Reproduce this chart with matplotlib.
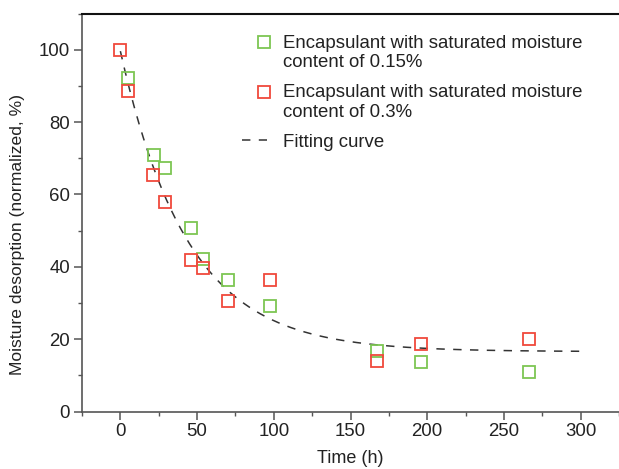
import numpy as np
import matplotlib
matplotlib.use("Agg")
import matplotlib.pyplot as plt
from matplotlib.legend_handler import HandlerLine2D
from matplotlib.ticker import MultipleLocator

plt.rcParams['font.family'] = ['Liberation Sans', 'DejaVu Sans']

# data
t_015 = [4.8, 21.7, 28.8, 46.0, 53.8, 70.0, 97.6, 167.0, 195.8, 266.3]
y_015 = [92.2, 70.8, 67.2, 50.7, 42.3, 36.3, 29.3, 16.8, 13.6, 11.0]

t_03 = [0.0, 4.8, 21.3, 28.8, 46.0, 53.8, 70.0, 97.6, 167.0, 195.8, 266.3]
y_03 = [100.0, 88.5, 65.5, 57.9, 41.9, 39.7, 30.6, 36.3, 14.1, 18.6, 20.2]

# exponential fit parameters: y = y0 + A*exp(-t/tau)
fit_y0 = 16.6
fit_A = 83.0
fit_tau = 44.0
t_fit = np.linspace(0, 300, 301)
y_fit = fit_y0 + fit_A * np.exp(-t_fit / fit_tau)

green = '#7dc653'
red = '#f0493c'
fs = 13.4


class TopHandler(HandlerLine2D):
    # put marker on first text line and to the right end of the handle
    def create_artists(self, legend, orig_handle, xdescent, ydescent,
                       width, height, fontsize, trans):
        arts = super().create_artists(legend, orig_handle, xdescent, ydescent,
                                      width, height, fontsize, trans)
        for a in arts:
            a.set_ydata(np.asarray(a.get_ydata()) + 0.56 * fontsize)
            a.set_xdata(np.asarray(a.get_xdata()) + 0.49 * fontsize)
        return arts


fig = plt.figure(figsize=(6.19, 4.69), dpi=100)
ax = fig.add_axes([0.1325, 0.1222, 0.8675, 0.849])

g, = ax.plot(t_015, y_015, linestyle='none', marker='s', markersize=8.2,
             markerfacecolor='none', markeredgecolor=green, markeredgewidth=1.3,
             label='Encapsulant with saturated moisture\ncontent of 0.15%', zorder=3)
r, = ax.plot(t_03, y_03, linestyle='none', marker='s', markersize=8.2,
             markerfacecolor='none', markeredgecolor=red, markeredgewidth=1.3,
             label='Encapsulant with saturated moisture\ncontent of 0.3%', zorder=3)
f, = ax.plot(t_fit, y_fit, color='#333333', linewidth=1.1, dashes=(5.5, 5.5),
             label='Fitting curve', zorder=2)

ax.set_xlim(-25, 325)
ax.set_ylim(0, 110)
ax.xaxis.set_major_locator(MultipleLocator(50))
ax.xaxis.set_minor_locator(MultipleLocator(25))
ax.yaxis.set_major_locator(MultipleLocator(20))
ax.yaxis.set_minor_locator(MultipleLocator(10))
ax.set_xticks([0, 50, 100, 150, 200, 250, 300])

for s in ['left', 'bottom']:
    ax.spines[s].set_color('#555555')
    ax.spines[s].set_linewidth(1.2)
ax.spines['top'].set_color('#111111')
ax.spines['top'].set_linewidth(1.5)
ax.spines['right'].set_visible(False)

ax.tick_params(which='major', direction='out', length=5.5, width=1.1,
               color='#555555', labelsize=fs, labelcolor='#222222', pad=3)
ax.tick_params(which='minor', direction='out', length=3, width=1.0,
               color='#555555')
ax.tick_params(top=False, right=False, which='both')

ax.set_xlabel('Time (h)', fontsize=13, color='#222222', labelpad=7)
ax.set_ylabel('Moisture desorption (normalized, %)', fontsize=12.6,
              color='#222222')
ax.yaxis.set_label_coords(-0.106, 0.444)

leg = ax.legend(handles=[g, r, f], loc='upper left',
                bbox_to_anchor=(0.298, 0.947), frameon=False, fontsize=fs,
                handlelength=1.34, handletextpad=0.86, labelspacing=0.7,
                borderaxespad=0, borderpad=0,
                handler_map={g: TopHandler(), r: TopHandler()})
for txt in leg.get_texts():
    txt.set_color('#222222')
    txt.set_linespacing(1.19)

fig.savefig('out.png', dpi=100)
